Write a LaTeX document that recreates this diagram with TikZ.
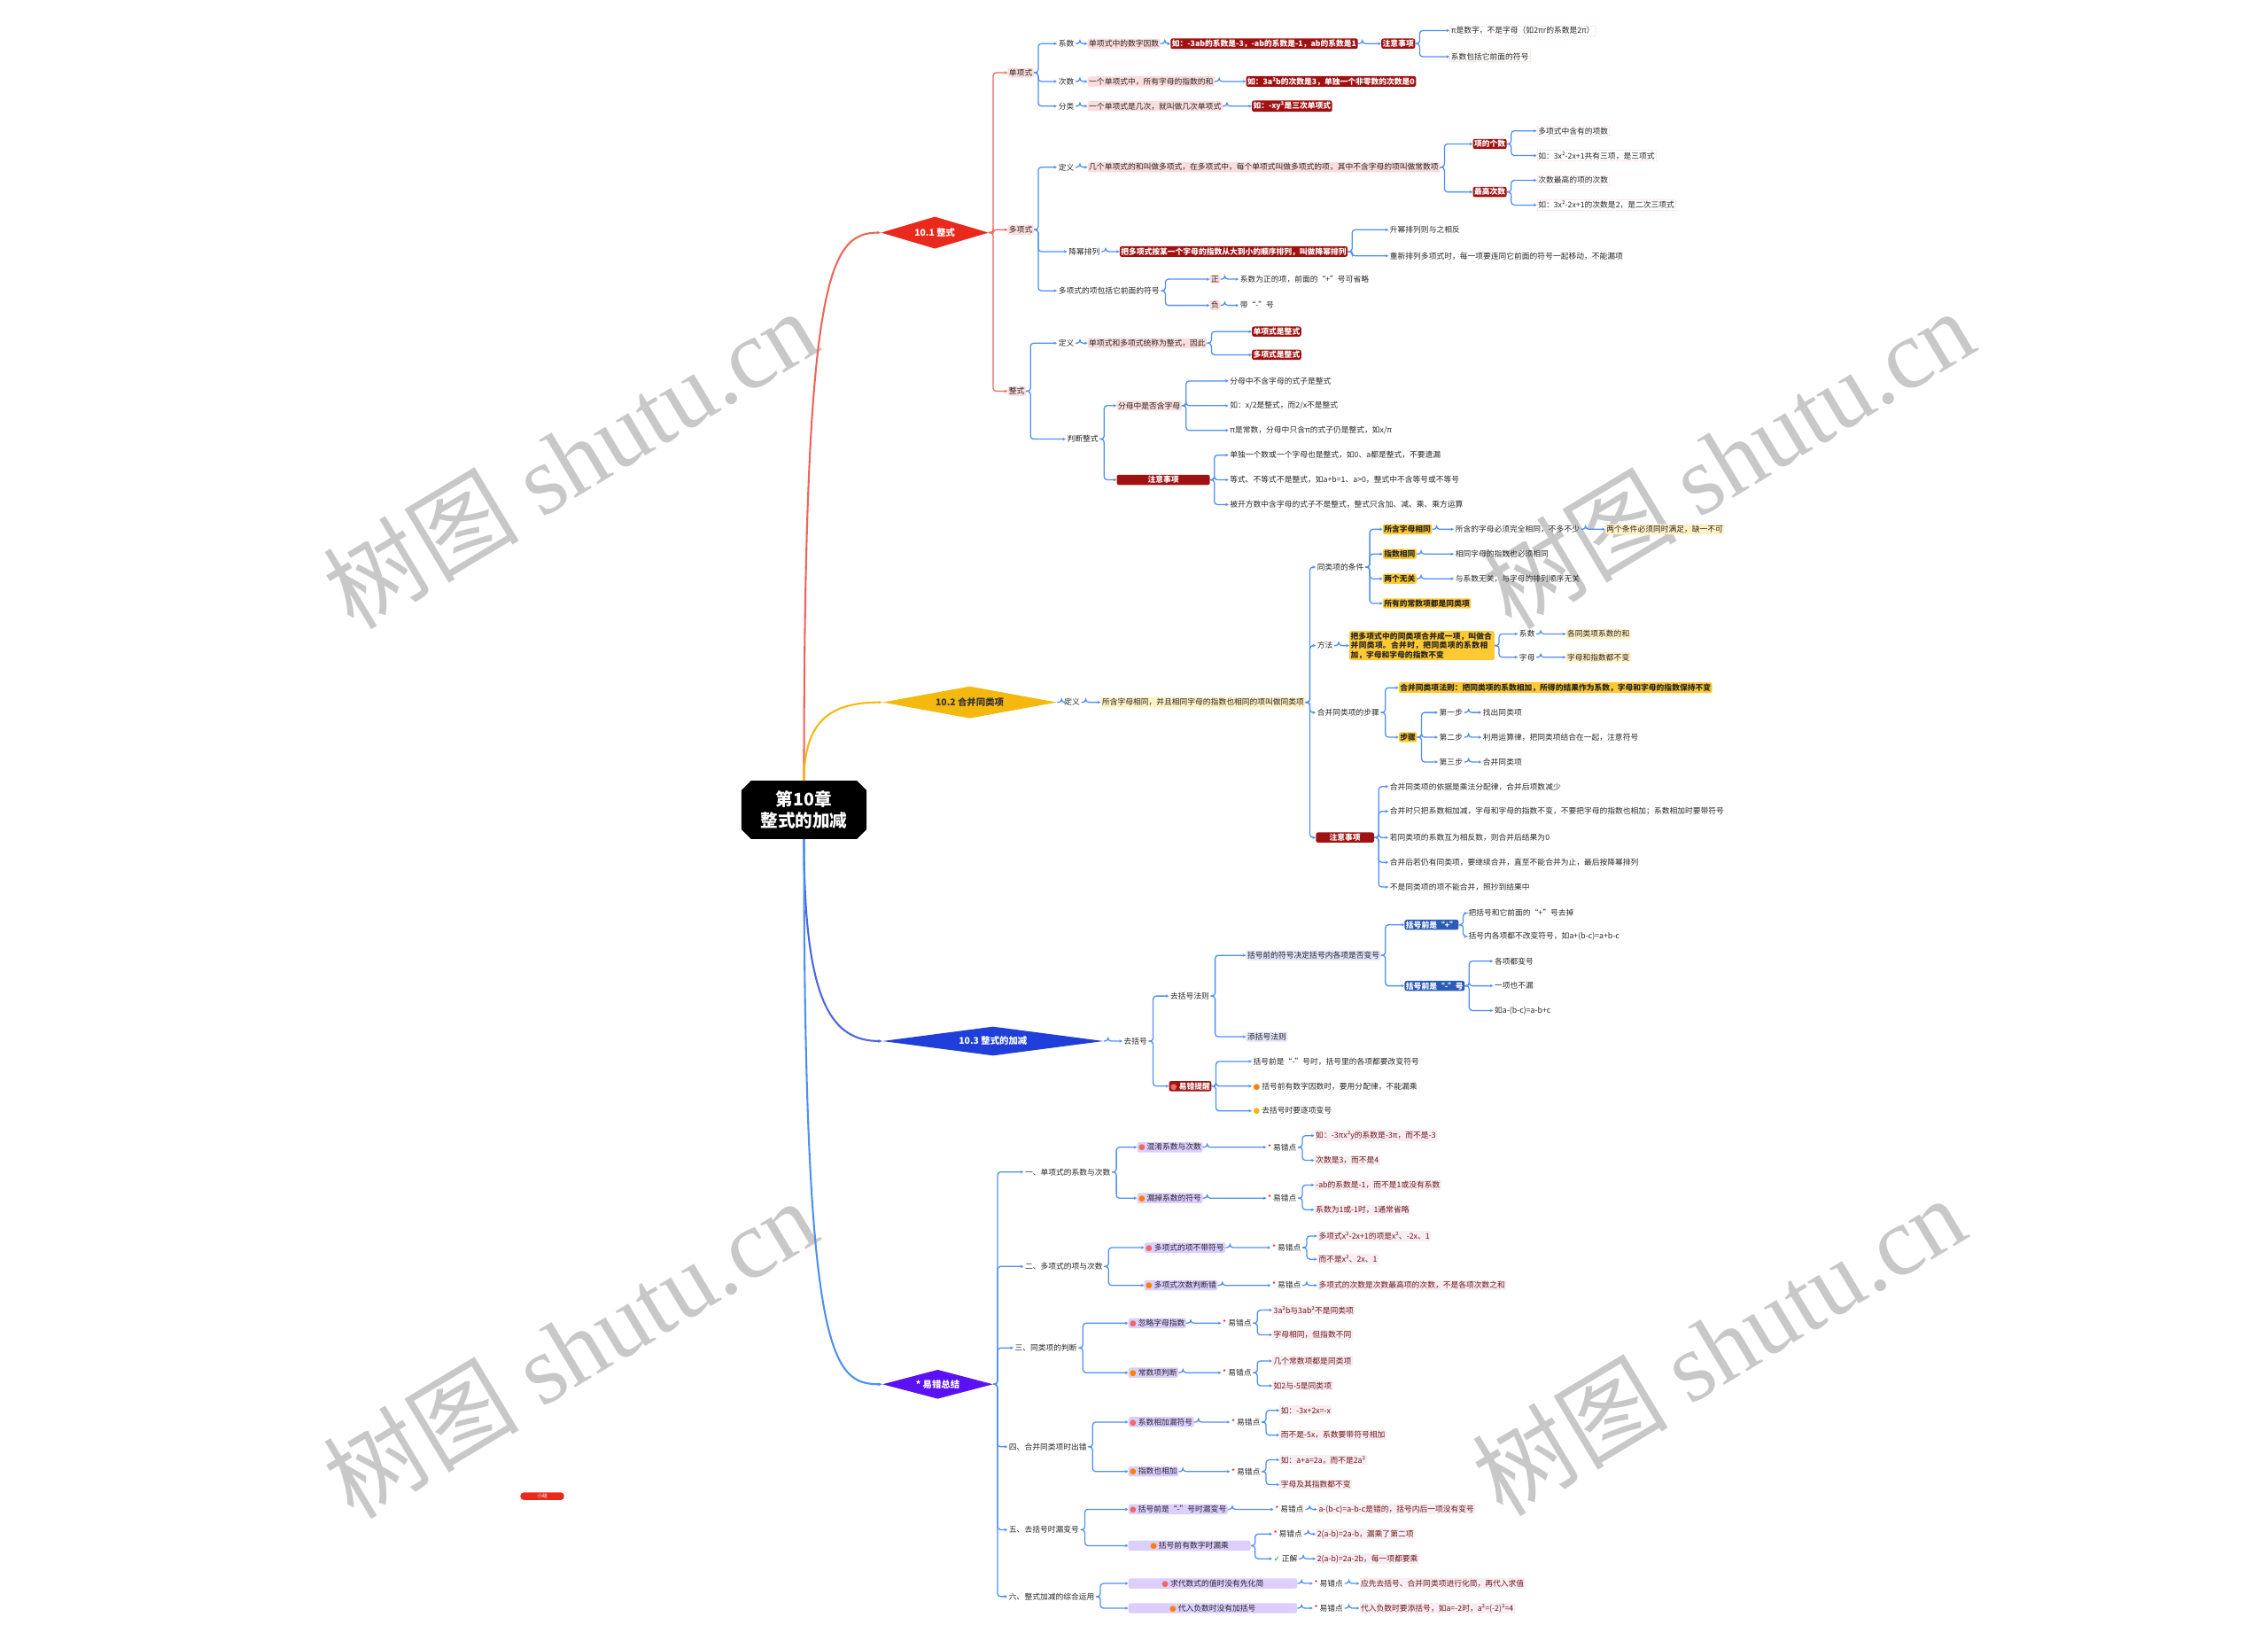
\documentclass[tikz,border=0pt]{standalone}
\usepackage{fontspec}
\setmainfont{Noto Sans CJK SC}
\newfontfamily\symf{DejaVu Sans}
\newfontfamily\wmserif{Liberation Serif}
\XeTeXlinebreaklocale "zh"
\XeTeXlinebreakskip=0pt plus 1pt
\usetikzlibrary{shapes.geometric,shapes.misc,arrows.meta}
\definecolor{rline}{HTML}{F0645A}
\definecolor{bline}{HTML}{4D8FF5}
\definecolor{pinkbg}{HTML}{FCDCDC}
\definecolor{dred}{HTML}{A01212}
\definecolor{gold}{HTML}{FFC933}
\definecolor{pgold}{HTML}{FFF1C4}
\definecolor{lav}{HTML}{DCCEFF}
\definecolor{lavb}{HTML}{E1E3FA}
\definecolor{bbox}{HTML}{2C5CB8}
\definecolor{pleaf}{HTML}{F7EDF3}
\definecolor{ltext}{HTML}{6E1818}
\definecolor{dmA}{HTML}{E8291C}
\definecolor{dmB}{HTML}{F5B80F}
\definecolor{dmC}{HTML}{1F3FD8}
\definecolor{dmD}{HTML}{5A12F5}
\definecolor{wm}{HTML}{C8C8C8}
\newcommand\reddot{{\symf\textcolor{dmA!70}{●}}}
\newcommand\orgdot{{\symf\textcolor{orange}{●}}}
\newcommand\ylwdot{{\symf\textcolor{dmB}{●}}}
\newcommand\mk{\textcolor{red}{*}}
\tikzset{
  every node/.style={font=\fontsize{7.6}{9}\selectfont, inner sep=1.3pt, text=black!85},
  lb/.style={anchor=west},
  pk/.style={lb, fill=pinkbg, rounded corners=2pt},
  dr/.style={lb, fill=dred, text=white, rounded corners=2pt, font=\fontsize{7.6}{9}\selectfont\bfseries},
  lf/.style={lb, draw=red!15, densely dotted},
  gd/.style={lb, fill=gold, rounded corners=2pt, font=\fontsize{7.6}{9}\selectfont\bfseries},
  pg/.style={lb, fill=pgold, rounded corners=2pt},
  lv/.style={lb, fill=lav, rounded corners=2pt},
  lvb/.style={lb, fill=lavb, rounded corners=2pt},
  bx/.style={lb, fill=bbox, text=white, rounded corners=2pt, font=\fontsize{7.6}{9}\selectfont\bfseries},
  lp/.style={lb, fill=pleaf, text=ltext},
  dm/.style={diamond, aspect=6, inner sep=0pt, minimum height=11mm, font=\fontsize{9}{10}\selectfont\bfseries},
  rootbox/.style={chamfered rectangle, chamfered rectangle xsep=2mm, fill=black, text=white, align=center,
    font=\fontsize{17}{21}\selectfont\bfseries, minimum width=43mm, minimum height=20mm, inner sep=0pt},
  cb/.style={draw=bline, line width=1.1pt, rounded corners=3pt, -{Stealth[length=3pt,width=3pt]}},
  cr/.style={cb, draw=rline},
  wmark/.style={text=wm, rotate=31, font=\fontsize{96}{96}\selectfont},
  badge/.style={fill=dmA, text=white, rounded corners=3pt, minimum width=15mm, font=\fontsize{5}{6}\selectfont}
}
\begin{document}
\begin{tikzpicture}[x=0.5mm,y=-0.5mm]
\useasboundingbox (0,0) rectangle (1560,1123);
% watermark
\node[wmark] (w1) at (392,315) {树图 {\wmserif shutu.cn}};
\node[wmark] (w2) at (1188,315) {树图 {\wmserif shutu.cn}};
\node[wmark] (w3) at (392,927) {树图 {\wmserif shutu.cn}};
\node[wmark] (w4) at (1182,925) {树图 {\wmserif shutu.cn}};

\node[rootbox] (R) at (553,557) {第10章\\整式的加减};
\node[dm, fill=dmA, text=white, minimum width=37mm] (T1) at (643,160) {10.1 整式};
\node[dm, fill=dmB, text=black!80, minimum width=60mm] (T2) at (667,483) {10.2 合并同类项};
\node[dm, fill=dmC, text=white, minimum width=76mm, minimum height=10mm] (T3) at (683,716) {10.3 整式的加减};
\node[dm, fill=dmD, text=white, minimum width=38mm, minimum height=10mm] (T4) at (645,952) {* 易错总结};
\draw[rline, line width=1.8pt, -{Stealth[length=4pt]}] (R.north) .. controls (553,190) and (570,160) .. (T1.west);
\draw[dmB, line width=1.8pt, -{Stealth[length=4pt]}] (R.north) .. controls (553,495) and (572,483) .. (T2.west);
\draw[dmC!80, line width=1.8pt, -{Stealth[length=4pt]}] (R.south) .. controls (553,690) and (572,716) .. (T3.west);
\draw[bline, line width=1.8pt, -{Stealth[length=4pt]}] (R.south) .. controls (553,935) and (572,952) .. (T4.west);

% 10.1
\node[pk] (A1) at (693,50) {单项式};
\node[pk] (A2) at (693,158) {多项式};
\node[pk] (A3) at (693,269) {整式};
\node[lb] (a1) at (727,30) {系数};
\node[pk] (a1p) at (748,30) {单项式中的数字因数};
\node[dr] (a1d) at (805,30) {如：-3ab的系数是-3，-ab的系数是-1，ab的系数是1};
\node[dr] (a1n) at (950,30) {注意事项};
\node[lf] (a1x) at (997,21) {π是数字，不是字母（如2πr的系数是2π）};
\node[lf] (a1y) at (997,39) {系数包括它前面的符号};
\node[lb] (a2) at (727,56) {次数};
\node[pk] (a2p) at (748,56) {一个单项式中，所有字母的指数的和};
\node[dr] (a2d) at (857,56) {如：3a²b的次数是3，单独一个非零数的次数是0};
\node[lb] (a3) at (727,73) {分类};
\node[pk] (a3p) at (748,73) {一个单项式是几次，就叫做几次单项式};
\node[dr] (a3d) at (861,73) {如：-xy²是三次单项式};
\node[lb] (b1) at (727,115) {定义};
\node[pk] (b1p) at (748,115) {几个单项式的和叫做多项式，在多项式中，每个单项式叫做多项式的项，其中不含字母的项叫做常数项};
\node[dr] (b1a) at (1013,99) {项的个数};
\node[dr] (b1b) at (1013,132) {最高次数};
\node[lf] (b1a1) at (1057,90) {多项式中含有的项数};
\node[lf] (b1a2) at (1057,107) {如：3x²-2x+1共有三项，是三项式};
\node[lf] (b1b1) at (1057,124) {次数最高的项的次数};
\node[lf] (b1b2) at (1057,141) {如：3x²-2x+1的次数是2，是二次三项式};
\node[lb] (b2) at (734,173) {降幂排列};
\node[dr] (b2d) at (770,173) {把多项式按某一个字母的指数从大到小的顺序排列，叫做降幂排列};
\node[lb] (b2x) at (955,158) {升幂排列则与之相反};
\node[lb] (b2y) at (955,176) {重新排列多项式时，每一项要连同它前面的符号一起移动，不能漏项};
\node[lb] (b3) at (727,200) {多项式的项包括它前面的符号};
\node[pk] (b3a) at (832,192) {正};
\node[pk] (b3b) at (832,210) {负};
\node[lb] (b3a1) at (852,192) {系数为正的项，前面的“+”号可省略};
\node[lb] (b3b1) at (852,210) {带“-”号};
\node[lb] (c1) at (727,236) {定义};
\node[pk] (c1p) at (748,236) {单项式和多项式统称为整式，因此};
\node[dr] (c1a) at (861,228) {单项式是整式};
\node[dr] (c1b) at (861,244) {多项式是整式};
\node[lb] (c2) at (733,302) {判断整式};
\node[pk] (c2a) at (768,279) {分母中是否含字母};
\node[dr, minimum width=32mm] (c2b) at (768,330) {注意事项};
\node[lb] (c2a1) at (845,262) {分母中不含字母的式子是整式};
\node[lb] (c2a2) at (845,279) {如：x/2是整式，而2/x不是整式};
\node[lb] (c2a3) at (845,296) {π是常数，分母中只含π的式子仍是整式，如x/π};
\node[lb] (c2b1) at (845,313) {单独一个数或一个字母也是整式，如0、a都是整式，不要遗漏};
\node[lb] (c2b2) at (845,330) {等式、不等式不是整式，如a+b=1、a>0，整式中不含等号或不等号};
\node[lb] (c2b3) at (845,347) {被开方数中含字母的式子不是整式，整式只含加、减、乘、乘方运算};
\foreach \c in {A1,A2,A3} \draw[cr] (T1.east) -- ++(3,0) |- (\c.west);
\foreach \p/\c in {A1/a1,A1/a2,A1/a3,a1/a1p,a1p/a1d,a1d/a1n,a1n/a1x,a1n/a1y,a2/a2p,a2p/a2d,a3/a3p,a3p/a3d,
  A2/b1,A2/b2,A2/b3,b1/b1p,b1p/b1a,b1p/b1b,b1a/b1a1,b1a/b1a2,b1b/b1b1,b1b/b1b2,b2/b2d,b2d/b2x,b2d/b2y,
  b3/b3a,b3/b3b,b3a/b3a1,b3b/b3b1,A3/c1,A3/c2,c1/c1p,c1p/c1a,c1p/c1b,c2/c2a,c2/c2b,
  c2a/c2a1,c2a/c2a2,c2a/c2a3,c2b/c2b1,c2b/c2b2,c2b/c2b3}
  \draw[cb] (\p.east) -- ++(3,0) |- (\c.west);

% 10.2
\node[lb] (d0) at (731,483) {定义};
\node[pg] (d0p) at (757,483) {所含字母相同，并且相同字母的指数也相同的项叫做同类项};
\node[lb] (e1) at (905,390) {同类项的条件};
\node[lb] (e2) at (905,444) {方法};
\node[lb] (e3) at (905,490) {合并同类项的步骤};
\node[dr, minimum width=20mm] (e4) at (905,576) {注意事项};
\node[gd] (e1a) at (951,364) {所含字母相同};
\node[lb] (e1a2) at (1000,364) {所含的字母必须完全相同，不多不少};
\node[pg] (e1a3) at (1104,364) {两个条件必须同时满足，缺一不可};
\node[gd] (e1b) at (951,381) {指数相同};
\node[lb] (e1b2) at (1000,381) {相同字母的指数也必须相同};
\node[gd] (e1c) at (951,398) {两个无关};
\node[lb] (e1c2) at (1000,398) {与系数无关，与字母的排列顺序无关};
\node[gd] (e1d) at (951,415) {所有的常数项都是同类项};
\node[gd, text width=49mm, align=left] (e2g) at (928,444) {把多项式中的同类项合并成一项，叫做合并同类项。合并时，把同类项的系数相加，字母和字母的指数不变};
\node[lb] (e2a) at (1044,436) {系数};
\node[lb] (e2b) at (1044,452) {字母};
\node[pg] (e2a2) at (1077,436) {各同类项系数的和};
\node[pg] (e2b2) at (1077,452) {字母和指数都不变};
\node[gd] (e3a) at (962,473) {合并同类项法则：把同类项的系数相加，所得的结果作为系数，字母和字母的指数保持不变};
\node[gd] (e3b) at (962,507) {步骤};
\node[lb] (e3b1) at (989,490) {第一步};
\node[lb] (e3b2) at (989,507) {第二步};
\node[lb] (e3b3) at (989,524) {第三步};
\node[lb] (e3c1) at (1019,490) {找出同类项};
\node[lb] (e3c2) at (1019,507) {利用运算律，把同类项结合在一起，注意符号};
\node[lb] (e3c3) at (1019,524) {合并同类项};
\node[lb] (e4a) at (955,541) {合并同类项的依据是乘法分配律，合并后项数减少};
\node[lb] (e4b) at (955,558) {合并时只把系数相加减，字母和字母的指数不变，不要把字母的指数也相加；系数相加时要带符号};
\node[lb] (e4c) at (955,576) {若同类项的系数互为相反数，则合并后结果为0};
\node[lb] (e4d) at (955,593) {合并后若仍有同类项，要继续合并，直至不能合并为止，最后按降幂排列};
\node[lb] (e4e) at (955,610) {不是同类项的项不能合并，照抄到结果中};
\foreach \p/\c in {T2/d0,d0/d0p,d0p/e1,d0p/e2,d0p/e3,d0p/e4,e1/e1a,e1/e1b,e1/e1c,e1/e1d,e1a/e1a2,e1a2/e1a3,
  e1b/e1b2,e1c/e1c2,e2/e2g,e2g/e2a,e2g/e2b,e2a/e2a2,e2b/e2b2,e3/e3a,e3/e3b,e3b/e3b1,e3b/e3b2,e3b/e3b3,
  e3b1/e3c1,e3b2/e3c2,e3b3/e3c3,e4/e4a,e4/e4b,e4/e4c,e4/e4d,e4/e4e}
  \draw[cb] (\p.east) -- ++(3,0) |- (\c.west);

% 10.3
\node[lb] (f0) at (772,716) {去括号};
\node[lb] (f1) at (804,685) {去括号法则};
\node[lvb] (f1a) at (857,657) {括号前的符号决定括号内各项是否变号};
\node[lvb] (f1b) at (857,713) {添括号法则};
\node[bx] (f1a1) at (966,636) {括号前是“+”};
\node[bx] (f1a2) at (966,678) {括号前是“-”号};
\node[lb] (f1p1) at (1009,628) {把括号和它前面的“+”号去掉};
\node[lb] (f1p2) at (1009,644) {括号内各项都不改变符号，如a+(b-c)=a+b-c};
\node[lb] (f1m1) at (1027,661) {各项都变号};
\node[lb] (f1m2) at (1027,678) {一项也不漏};
\node[lb] (f1m3) at (1027,695) {如a-(b-c)=a-b+c};
\node[dr] (f2) at (804,747) {\reddot\ 易错提醒};
\node[lb] (f2a) at (861,730) {括号前是“-”号时，括号里的各项都要改变符号};
\node[lb] (f2b) at (861,747) {\orgdot\ 括号前有数字因数时，要用分配律，不能漏乘};
\node[lb] (f2c) at (861,764) {\ylwdot\ 去括号时要逐项变号};
\foreach \p/\c in {T3/f0,f0/f1,f0/f2,f1/f1a,f1/f1b,f1a/f1a1,f1a/f1a2,f1a1/f1p1,f1a1/f1p2,
  f1a2/f1m1,f1a2/f1m2,f1a2/f1m3,f2/f2a,f2/f2b,f2/f2c}
  \draw[cb] (\p.east) -- ++(3,0) |- (\c.west);

% * 易错总结
\node[lb] (g1) at (704,806) {一、单项式的系数与次数};
\node[lb] (g2) at (704,871) {二、多项式的项与次数};
\node[lb] (g3) at (697,927) {三、同类项的判断};
\node[lb] (g4) at (693,995) {四、合并同类项时出错};
\node[lb] (g5) at (693,1052) {五、去括号时漏变号};
\node[lb] (g6) at (693,1098) {六、整式加减的综合运用};
\node[lv] (g1a) at (782,789) {\reddot\ 混淆系数与次数};
\node[lb] (g1a1) at (871,789) {\mk\ 易错点};
\node[lp] (g1a2) at (904,781) {如：-3πx²y的系数是-3π，而不是-3};
\node[lp] (g1a3) at (904,798) {次数是3，而不是4};
\node[lv] (g1b) at (782,824) {\orgdot\ 漏掉系数的符号};
\node[lb] (g1b1) at (871,824) {\mk\ 易错点};
\node[lp] (g1b2) at (904,815) {-ab的系数是-1，而不是1或没有系数};
\node[lp] (g1b3) at (904,832) {系数为1或-1时，1通常省略};
\node[lv] (g2a) at (787,858) {\reddot\ 多项式的项不带符号};
\node[lb] (g2a1) at (874,858) {\mk\ 易错点};
\node[lp] (g2a2) at (906,850) {多项式x²-2x+1的项是x²、-2x、1};
\node[lp] (g2a3) at (906,866) {而不是x²、2x、1};
\node[lv] (g2b) at (787,884) {\orgdot\ 多项式次数判断错};
\node[lb] (g2b1) at (874,884) {\mk\ 易错点};
\node[lp] (g2b2) at (906,884) {多项式的次数是次数最高项的次数，不是各项次数之和};
\node[lv] (g3a) at (776,910) {\reddot\ 忽略字母指数};
\node[lb] (g3a1) at (840,910) {\mk\ 易错点};
\node[lp] (g3a2) at (875,901) {3a²b与3ab²不是同类项};
\node[lp] (g3a3) at (875,918) {字母相同，但指数不同};
\node[lv] (g3b) at (776,944) {\orgdot\ 常数项判断};
\node[lb] (g3b1) at (840,944) {\mk\ 易错点};
\node[lp] (g3b2) at (875,936) {几个常数项都是同类项};
\node[lp] (g3b3) at (875,953) {如2与-5是同类项};
\node[lv] (g4a) at (776,978) {\reddot\ 系数相加漏符号};
\node[lb] (g4a1) at (846,978) {\mk\ 易错点};
\node[lp] (g4a2) at (880,970) {如：-3x+2x=-x};
\node[lp] (g4a3) at (880,987) {而不是-5x，系数要带符号相加};
\node[lv] (g4b) at (776,1012) {\orgdot\ 指数也相加};
\node[lb] (g4b1) at (846,1012) {\mk\ 易错点};
\node[lp] (g4b2) at (880,1004) {如：a+a=2a，而不是2a²};
\node[lp] (g4b3) at (880,1021) {字母及其指数都不变};
\node[lv] (g5a) at (776,1038) {\reddot\ 括号前是“-”号时漏变号};
\node[lb] (g5a1) at (876,1038) {\mk\ 易错点};
\node[lp] (g5a2) at (906,1038) {a-(b-c)=a-b-c是错的，括号内后一项没有变号};
\node[lv, minimum width=42mm] (g5b) at (776,1063) {\orgdot\ 括号前有数字时漏乘};
\node[lb] (g5b1) at (875,1055) {\mk\ 易错点};
\node[lb] (g5b2) at (875,1072) {{\symf\textcolor{green!60!black}{✓}} 正解};
\node[lp] (g5b3) at (905,1055) {2(a-b)=2a-b，漏乘了第二项};
\node[lp] (g5b4) at (905,1072) {2(a-b)=2a-2b，每一项都要乘};
\node[lv, minimum width=58mm] (g6a) at (776,1089) {\reddot\ 求代数式的值时没有先化简};
\node[lb] (g6a1) at (903,1089) {\mk\ 易错点};
\node[lp] (g6a2) at (935,1089) {应先去括号、合并同类项进行化简，再代入求值};
\node[lv, minimum width=58mm] (g6b) at (776,1106) {\orgdot\ 代入负数时没有加括号};
\node[lb] (g6b1) at (903,1106) {\mk\ 易错点};
\node[lp] (g6b2) at (935,1106) {代入负数时要添括号，如a=-2时，a²=(-2)²=4};
\foreach \c in {g1,g2,g3,g4,g5,g6} \draw[cb] (T4.east) -- ++(3,0) |- (\c.west);
\foreach \p/\c in {g1/g1a,g1/g1b,g1a/g1a1,g1a1/g1a2,g1a1/g1a3,g1b/g1b1,g1b1/g1b2,g1b1/g1b3,
  g2/g2a,g2/g2b,g2a/g2a1,g2a1/g2a2,g2a1/g2a3,g2b/g2b1,g2b1/g2b2,
  g3/g3a,g3/g3b,g3a/g3a1,g3a1/g3a2,g3a1/g3a3,g3b/g3b1,g3b1/g3b2,g3b1/g3b3,
  g4/g4a,g4/g4b,g4a/g4a1,g4a1/g4a2,g4a1/g4a3,g4b/g4b1,g4b1/g4b2,g4b1/g4b3,
  g5/g5a,g5/g5b,g5a/g5a1,g5a1/g5a2,g5b/g5b1,g5b/g5b2,g5b1/g5b3,g5b2/g5b4,
  g6/g6a,g6/g6b,g6a/g6a1,g6a1/g6a2,g6b/g6b1,g6b1/g6b2}
  \draw[cb] (\p.east) -- ++(3,0) |- (\c.west);

\node[badge] (bd) at (373,1029) {小结};
\end{tikzpicture}
\end{document}
